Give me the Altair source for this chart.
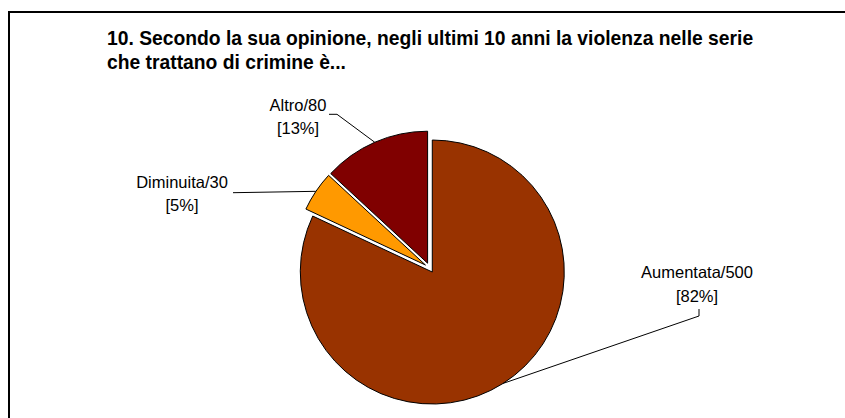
import numpy as np
import pandas as pd
import altair as alt

# ---- data ----
categories = ["Aumentata", "Diminuita", "Altro"]
values = [500, 30, 80]
colors = ["#993300", "#FF9900", "#800000"]
title_lines = [
    "10. Secondo la sua opinione, negli ultimi 10 anni la violenza nelle serie",
    "che trattano di crimine è...",
]

# ---- layout (style) ----
CX, CY, R, EXPLODE = 429.6, 267.8, 132, 5
FONT = "Liberation Sans"
# centre of the first label line
label_center = {"Aumentata": (697, 273), "Diminuita": (182, 182.5), "Altro": (298, 105.5)}
leader_start = {
    "Aumentata": [(699, 309), (699, 316)],
    "Diminuita": [(233, 192.7)],
    "Altro": [(329, 114.3), (337, 114.3)],
}

total = float(sum(values))
vals = np.array(values, dtype=float)
cum = np.cumsum(vals)
start = cum - vals
end = cum
mid = (start + end) / 2 / total * 2 * np.pi

slices = pd.DataFrame({
    "cat": categories,
    "value": values,
    "start": start,
    "end": end,
    "cx": CX + EXPLODE * np.sin(mid),
    "cy": CY - EXPLODE * np.cos(mid),
})
slices["mx"] = slices["cx"] + R * np.sin(mid)
slices["my"] = slices["cy"] - R * np.cos(mid)

labels = pd.DataFrame({
    "cat": categories,
    "lx": [label_center[c][0] for c in categories],
    "ly": [label_center[c][1] for c in categories],
    "text": [[f"{c}/{v}", f"[{round(v / total * 100)}%]"] for c, v in zip(categories, values)],
})

rows = []
for _, r in slices.iterrows():
    pts = leader_start[r["cat"]] + [(r["mx"], r["my"])]
    for i, (px, py) in enumerate(pts):
        rows.append({"cat": r["cat"], "i": i, "px": px, "py": py})
leaders = pd.DataFrame(rows)

frame = alt.Chart(alt.Data(values=[{"a": 1}])).mark_rect(
    fill="transparent", stroke="black", strokeWidth=2
).encode(x=alt.value(9), x2=alt.value(900), y=alt.value(12), y2=alt.value(500))

arcs = alt.Chart(slices).mark_arc(outerRadius=R, stroke="black", strokeWidth=1).encode(
    theta=alt.Theta("start:Q", scale=alt.Scale(domain=[0, total], range=[0, 2 * np.pi])),
    theta2="end:Q",
    x=alt.X("cx:Q", scale=None, axis=None),
    y=alt.Y("cy:Q", scale=None, axis=None),
    color=alt.Color("cat:N", scale=alt.Scale(domain=categories, range=colors), legend=None),
)

lead = alt.Chart(leaders).mark_line(color="black", strokeWidth=1).encode(
    x=alt.X("px:Q", scale=None, axis=None),
    y=alt.Y("py:Q", scale=None, axis=None),
    detail="cat:N",
    order="i:Q",
)

lab = alt.Chart(labels).mark_text(
    font=FONT, fontSize=16.5, lineHeight=23.5, align="center", baseline="middle", color="black"
).encode(
    x=alt.X("lx:Q", scale=None, axis=None),
    y=alt.Y("ly:Q", scale=None, axis=None),
    text="text",
)

title = alt.Chart(alt.Data(values=[{"a": 1}])).mark_text(
    text=title_lines, font=FONT, fontSize=19.3, fontWeight="bold", lineHeight=24,
    align="left", baseline="alphabetic", color="black"
).encode(x=alt.value(107), y=alt.value(45))

chart = alt.layer(frame, arcs, lead, lab, title).properties(
    width=845, height=418, autosize=alt.AutoSizeParams(type="none"), padding=0
).configure_view(stroke=None)

chart.save("out.html", embed_options={"renderer": "svg", "actions": False})
